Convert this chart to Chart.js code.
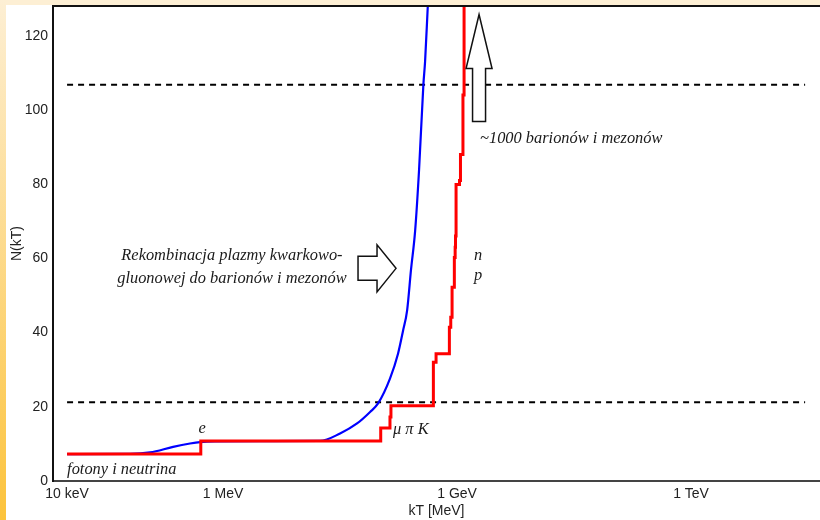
<!DOCTYPE html>
<html>
<head>
<meta charset="utf-8">
<script src="https://cdn.jsdelivr.net/npm/chart.js@4.4.1/dist/chart.umd.min.js"></script>
<style>
  html, body { margin: 0; padding: 0; background: #fff; }
  #wrap { position: relative; width: 820px; height: 520px; overflow: hidden; }
  #topStrip { position: absolute; left: 0; top: 0; width: 820px; height: 5px; background: #fdefd4; }
  #leftStrip { position: absolute; left: 0; top: 0; width: 6px; height: 520px; background: linear-gradient(#fdefd4, #fcc33c); }
  canvas { position: absolute; left: 0; top: 0; }
</style>
</head>
<body>
<div id="wrap">
  <div id="topStrip"></div>
  <div id="leftStrip"></div>
  <canvas id="chart" width="820" height="520"></canvas>
</div>
<script>
// kT in MeV, N(kT)
const redX = [0.01, 0.518, 105, 138, 142, 497, 538, 797, 830, 863, 923, 945, 955, 971, 1075, 1106, 1190, 1230];
const redY = [7.25, 10.75, 14.25, 17.25, 20.25, 32, 34.3, 41.4, 44.1, 52.2, 60.2, 63, 66, 79.9, 81, 88, 104, 140];

const blueX = [0.01, 0.0642, 0.116, 0.229, 0.377, 0.507, 0.789, 2.98, 17.5, 31.6, 52.2, 76.7, 97.1, 138, 175, 203, 229, 257, 290, 326, 370, 389, 421, 451];
const blueY = [7.25, 7.3, 7.7, 9.2, 10.1, 10.5, 10.7, 10.75, 10.8, 12.8, 15.5, 18.6, 20.9, 27.6, 34.3, 40.5, 46, 57, 67.4, 84, 106.8, 113, 127.8, 140];

const dashX = [0.01, 2.9e7];
const lowerLevel = 21.25;
const upperLevel = 106.75;

const xTickValues = [0.01, 1, 1000, 1e6];
const xTickLabels = ["10 keV", "1 MeV", "1 GeV", "1 TeV"];
const yTickStep = 20;

const noteTexts = ["fotony i neutrina", "e", "\u03bc \u03c0 K", "n", "p",
    "Rekombinacja plazmy kwarkowo-", "gluonowej do barionów i mezonów", "~1000 barionów i mezonów"];
const noteX = [0.01, 0.54, 151, 1652, 1652, 1.3, 1.3, 1972];
const noteY = [2.96, 14.0, 13.7, 60.6, 55.4, 60.6, 54.6, 92.3];
const noteAlign = ["left", "center", "left", "left", "left", "center", "center", "left"];

function toPoints(xs, ys) {
    return xs.map((x, i) => ({ x: x, y: ys[i] }));
}

function noEdgePadding(s) {
    s.paddingTop = 0;
    s.paddingBottom = 0;
    s.paddingLeft = 0;
    s.paddingRight = 0;
}

const notesPlugin = {
    id: "notes",
    afterDatasetsDraw(chart) {
        const ctx = chart.ctx;
        const sx = chart.scales.x;
        const sy = chart.scales.y;
        const area = chart.chartArea;
        ctx.save();

        // top frame line
        ctx.strokeStyle = "#111";
        ctx.lineWidth = 2;
        ctx.beginPath();
        ctx.moveTo(area.left - 1, area.top);
        ctx.lineTo(area.right, area.top);
        ctx.stroke();

        ctx.fillStyle = "#1a1a1a";
        ctx.font = "italic 16.4px 'Liberation Serif', serif";
        ctx.textBaseline = "middle";
        noteTexts.forEach((t, i) => {
            ctx.textAlign = noteAlign[i];
            ctx.fillText(t, sx.getPixelForValue(noteX[i]), sy.getPixelForValue(noteY[i]));
        });

        function arrow(pts) {
            ctx.beginPath();
            pts.forEach((p, i) => i ? ctx.lineTo(p[0], p[1]) : ctx.moveTo(p[0], p[1]));
            ctx.closePath();
            ctx.fillStyle = "#fff";
            ctx.fill();
            ctx.strokeStyle = "#111";
            ctx.lineWidth = 1.5;
            ctx.stroke();
        }

        // arrow pointing at the blue curve
        let tx = sx.getPixelForValue(165), ty = sy.getPixelForValue(57.3);
        arrow([[tx - 38, ty - 12], [tx - 19, ty - 12], [tx - 19, ty - 23.5], [tx, ty],
               [tx - 19, ty + 23.5], [tx - 19, ty + 12], [tx - 38, ty + 12]]);

        // arrow pointing up
        tx = sx.getPixelForValue(1914); ty = sy.getPixelForValue(125.7);
        arrow([[tx, ty], [tx + 13, ty + 54], [tx + 6.5, ty + 54], [tx + 6.5, ty + 107],
               [tx - 6.5, ty + 107], [tx - 6.5, ty + 54], [tx - 13, ty + 54]]);

        ctx.restore();
    }
};

new Chart(document.getElementById("chart"), {
    type: "line",
    data: {
        datasets: [
            {
                data: toPoints(redX, redY),
                borderColor: "#ff0000",
                borderWidth: 3,
                stepped: "before",
                pointRadius: 0
            },
            {
                data: toPoints(blueX, blueY),
                borderColor: "#0000ff",
                borderWidth: 2.2,
                cubicInterpolationMode: "monotone",
                pointRadius: 0
            },
            {
                data: toPoints(dashX, [lowerLevel, lowerLevel]),
                borderColor: "#000",
                borderWidth: 2,
                borderDash: [6, 5],
                pointRadius: 0
            },
            {
                data: toPoints(dashX, [upperLevel, upperLevel]),
                borderColor: "#000",
                borderWidth: 2,
                borderDash: [6, 5],
                pointRadius: 0
            }
        ]
    },
    options: {
        responsive: false,
        animation: false,
        devicePixelRatio: 1,
        layout: { padding: { top: 6, right: 0, left: 0, bottom: 0 } },
        plugins: { legend: { display: false }, tooltip: { enabled: false } },
        scales: {
            x: {
                type: "logarithmic",
                min: 0.0066,
                max: 4.5e7,
                afterFit: s => { s.height = 39; noEdgePadding(s); },
                afterBuildTicks: s => { s.ticks = xTickValues.map(v => ({ value: v })); },
                grid: { display: false, drawTicks: false },
                border: { display: true, color: "#444", width: 2 },
                ticks: {
                    autoSkip: false,
                    maxRotation: 0,
                    padding: 5,
                    color: "#222",
                    font: { family: "'Liberation Sans', Arial, sans-serif", size: 14 },
                    callback: (v) => {
                        const i = xTickValues.indexOf(v);
                        return i >= 0 ? xTickLabels[i] : "";
                    }
                },
                title: {
                    display: true,
                    text: "kT [MeV]",
                    color: "#222",
                    padding: 0,
                    font: { family: "'Liberation Sans', Arial, sans-serif", size: 14 }
                }
            },
            y: {
                min: 0,
                max: 128,
                afterFit: s => { s.width = 53; noEdgePadding(s); },
                afterBuildTicks: s => { s.ticks = s.ticks.filter(t => t.value % yTickStep === 0); },
                grid: { display: false, drawTicks: false },
                border: { display: true, color: "#111", width: 2 },
                ticks: {
                    stepSize: yTickStep,
                    padding: 5,
                    color: "#222",
                    font: { family: "'Liberation Sans', Arial, sans-serif", size: 14 }
                },
                title: {
                    display: true,
                    text: "N(kT)",
                    color: "#222",
                    padding: 9,
                    font: { family: "'Liberation Sans', Arial, sans-serif", size: 14 }
                }
            }
        }
    },
    plugins: [notesPlugin]
});
</script>
</body>
</html>
